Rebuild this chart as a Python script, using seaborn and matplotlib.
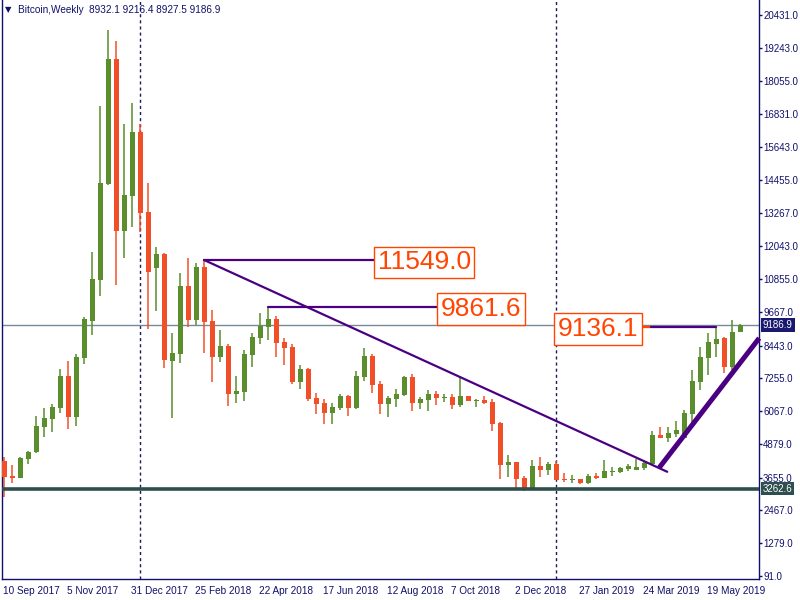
import matplotlib
matplotlib.use("Agg")
import matplotlib.pyplot as plt
import numpy as np
import pandas as pd
import seaborn as sns

# weekly BTC candles, first bar = week of 10 Sep 2017
start_date = "2017-09-10"
opens = [4270, 3700, 3650, 4350, 4570, 5505, 5795, 6195, 7340, 5865,
         8005, 9350, 10835, 14300, 18835, 12610, 13880, 16190, 13290, 11270,
         11765, 7900, 8150, 10605, 9385, 11295, 9335, 8040, 8430, 6690,
         6760, 8105, 8720, 9130, 9410, 8575, 8390, 7135, 7595, 6545,
         6360, 6010, 6180, 6615, 6180, 7315, 8065, 7050, 6340, 6505,
         6650, 7315, 6375, 6470, 6690, 6555, 6580, 6300, 6615, 6445,
         6470, 6400, 5635, 4125, 4225, 3640, 3290, 4080, 3945, 4150,
         3615, 3570, 3595, 3460, 3725, 3655, 3870, 3860, 3970, 3935,
         4015, 4150, 5200, 5105, 5250, 5105, 5965, 7135, 7980, 8515,
         8705, 7680, 8932.1]
highs = [4415, 4115, 4405, 4620, 5890, 6180, 6325, 7595, 7885, 8125,
         9495, 11835, 17130, 19890, 19490, 16480, 17240, 16480, 14340, 12005,
         11800, 8910, 11090, 11620, 11440, 11549, 9735, 9010, 8490, 7340,
         8285, 8910, 9615, 9861.6, 9515, 8720, 8490, 7730, 7645, 6735,
         6495, 6350, 6690, 6640, 7520, 8355, 8140, 7160, 6615, 6870,
         7340, 7425, 6590, 6835, 6795, 6690, 6690, 7355, 6620, 6520,
         6615, 6505, 5675, 4475, 4230, 3715, 4295, 4405, 4225, 4270,
         3835, 3740, 3600, 3785, 3810, 4285, 4030, 4055, 4150, 4330,
         4235, 5345, 5505, 5505, 5710, 6110, 7560, 8405, 8890, 9136.1,
         8745, 9370, 9216.4]
lows = [2965, 3470, 3630, 4140, 4540, 5115, 5325, 5985, 5405, 5540,
        7765, 8815, 10255, 14280, 10655, 11630, 12755, 12575, 9055, 9710,
        7645, 5830, 7825, 9105, 9200, 8185, 7135, 7860, 6265, 6350,
        6445, 7655, 8490, 8645, 8040, 7740, 7050, 6870, 6445, 5965,
        5600, 5615, 6110, 5905, 6155, 7170, 6735, 5975, 5865, 6230,
        6615, 6070, 6155, 6085, 6300, 6410, 6155, 6230, 6445, 6230,
        6325, 5360, 3620, 3665, 3255, 3183, 3255, 3665, 3740, 3560,
        3510, 3475, 3415, 3425, 3620, 3650, 3725, 3825, 3910, 3920,
        3935, 4125, 5080, 4960, 5140, 5100, 5625, 6835, 7375, 8040,
        7440, 7560, 8927.5]
closes = [3690, 3650, 4370, 4575, 5530, 5820, 6215, 7340, 5865, 8030,
          9410, 10860, 14340, 18835, 12610, 13905, 16190, 13265, 11125, 11765,
          7920, 8185, 10605, 9385, 11295, 9310, 8040, 8430, 6690, 6795,
          8140, 8745, 9165, 9410, 8550, 8370, 7135, 7595, 6505, 6325,
          6010, 6225, 6615, 6180, 7340, 8065, 7025, 6340, 6545, 6690,
          7315, 6375, 6505, 6690, 6555, 6580, 6300, 6615, 6445, 6470,
          6360, 5615, 4125, 4225, 3620, 3290, 4080, 3945, 4140, 3575,
          3560, 3595, 3450, 3705, 3655, 3885, 3895, 4005, 4090, 4055,
          4185, 5200, 5080, 5275, 5385, 6000, 7160, 8030, 8585, 8670,
          7680, 8925, 9186.9]

price_ticks = [20431, 19243, 18055, 16831, 15643, 14455, 13267, 12043, 10855,
               9667, 8443, 7255, 6067, 4879, 3655, 2467, 1279, 91]
last_price = 9186.9
support_level = 3262.6

# marked highs: bar of the high, where the label box sits, label on which side
level_values = [11549.0, 9861.6, 9136.1]
level_bars = [25, 33, 89]
level_label_x = [46.7, 54.6, 79.25]
level_label_side = ["right", "right", "left"]

# trend lines (bar index, price)
thin_line_x = [25, 82.9]
thin_line_y = [11549.0, 3870.0]
thick_line_x = [81.9, 94.4]
thick_line_y = [4017.0, 8715.0]

navy = "#10106b"
green = "#5A8E2C"
red = "#F14F27"
purple = "#4B0082"
label_orange = "#FF4500"

df = pd.DataFrame({"open": opens, "high": highs, "low": lows, "close": closes})
df["date"] = pd.date_range(start_date, periods=len(df), freq="7D")
df["idx"] = np.arange(len(df))
df["color"] = np.where(df["close"] >= df["open"], green, red)

sns.set_style("white")
plt.rcParams["font.family"] = ["Liberation Sans", "DejaVu Sans"]

fig = plt.figure(figsize=(8, 6), dpi=100)
ax = fig.add_axes([2 / 800, 21 / 600, 757 / 800, 579 / 600])
ax.set_xlim(-0.25, 94.375)
ax.set_ylim(-18, 20975)

# year separators
years = df["date"].dt.year
sep = df.loc[years != years.shift(1), "idx"].iloc[1:]
for s in sep:
    ax.axvline(s, color="#1a1a60", lw=1, ls=(0, (2.2, 2.2)), zorder=1)

ax.axhline(last_price, color="#778899", lw=1, zorder=1)
ax.axhline(support_level, color="#2F4F4F", lw=2.6, zorder=4)

# candles
ax.vlines(df["idx"], df["low"], df["high"], colors=df["color"], lw=1.1, zorder=2)
body_low = df[["open", "close"]].min(axis=1)
body_h = (df["close"] - df["open"]).abs().clip(lower=40)
ax.bar(df["idx"], body_h, bottom=body_low, width=0.625, color=df["color"],
       linewidth=0, zorder=3)

# trend lines
ax.plot(thin_line_x, thin_line_y, color=purple, lw=1.6, zorder=5)
ax.plot(thick_line_x, thick_line_y, color=purple, lw=3.6, zorder=5,
        solid_capstyle="butt", clip_on=False)

# horizontal price labels
for val, b, lx, side in zip(level_values, level_bars, level_label_x, level_label_side):
    if side == "right":
        ax.plot([b, lx - 0.45], [val, val], color=purple, lw=1.6, zorder=5)
        ha = "left"
    else:
        ax.plot([lx + 0.35, lx + 1.6], [val, val], color=label_orange, lw=1.6, zorder=5)
        ax.plot([lx + 1.6, b], [val, val], color=purple, lw=1.6, zorder=5)
        ha = "right"
    ax.text(lx, val, f"{val:.1f}", fontsize=19, color=label_orange, ha=ha,
            va="center_baseline", zorder=6,
            bbox=dict(boxstyle="square,pad=0.14", fc="white", ec=label_orange, lw=1))

# axes styling
for side in ["left", "right", "bottom"]:
    ax.spines[side].set_color(navy)
    ax.spines[side].set_linewidth(1)
ax.spines["top"].set_visible(False)

ax.yaxis.tick_right()
ax.set_yticks(price_ticks)
ax.set_yticklabels([f"{p:.1f}" for p in price_ticks])
ax.tick_params(axis="y", direction="out", length=2, width=1, color=navy,
               labelcolor=navy, labelsize=7.0, pad=1)

tick_idx = df["idx"].iloc[::8]
ax.set_xticks(tick_idx - 0.12)
ax.set_xticklabels([f"{d.day} {d:%b %Y}" for d in df["date"].iloc[::8]])
ax.tick_params(axis="x", direction="out", length=3, width=1, color=navy,
               labelcolor=navy, labelsize=7.2, pad=2)
for lbl in ax.get_xticklabels():
    lbl.set_horizontalalignment("left")

# value boxes on the price scale
ytr = ax.get_yaxis_transform()
ax.text(1.005, last_price, f"{last_price:.1f}", transform=ytr, fontsize=7.0,
        color="white", ha="left", va="center",
        bbox=dict(boxstyle="square,pad=0.2", fc="#191970", ec="none"))
ax.text(1.005, support_level, f"{support_level:.1f}", transform=ytr, fontsize=7.0,
        color="white", ha="left", va="center",
        bbox=dict(boxstyle="square,pad=0.2", fc="#2F4F4F", ec="none"))

last = df.iloc[-1]
title = f"Bitcoin,Weekly  {last['open']:.1f} {last['high']:.1f} {last['low']:.1f} {last['close']:.1f}"
fig.text(5 / 800, 1 - 10 / 600, "\u25bc", fontsize=6, color=navy, va="center",
         family=["DejaVu Sans"])
fig.text(18 / 800, 1 - 10 / 600, title, fontsize=7.2, color=navy, va="center")

fig.savefig("out.png", dpi=100)
